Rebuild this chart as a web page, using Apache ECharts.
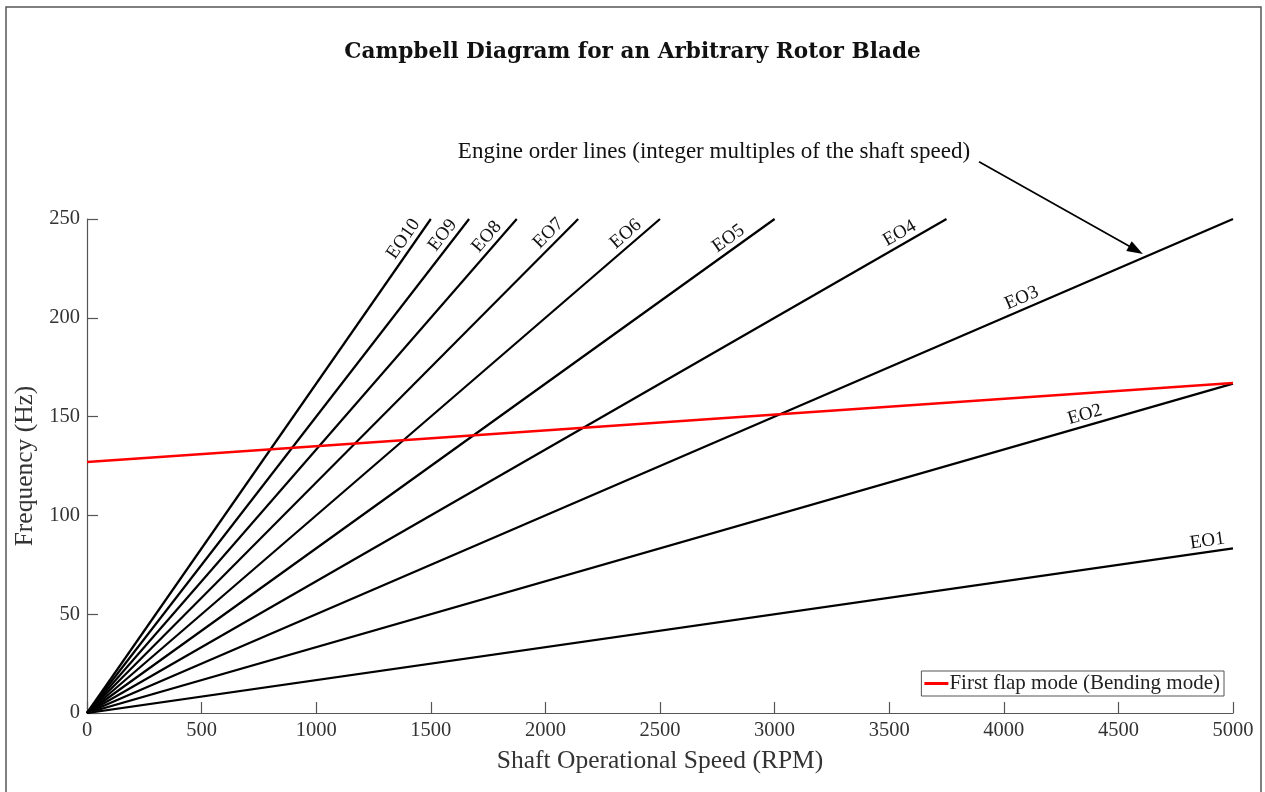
<!DOCTYPE html>
<html><head><meta charset="utf-8">
<script src="https://cdn.jsdelivr.net/npm/echarts@6/dist/echarts.min.js"></script>
<style>html,body{margin:0;padding:0;background:#fff}#c{width:1265px;height:792px}</style>
</head><body><div id="c"></div>
<script>
// ---- data ----
const eoLabels   = ['EO1','EO2','EO3','EO4','EO5','EO6','EO7','EO8','EO9','EO10'];
const eoEndRpm   = [5000, 5000, 5000, 3750, 3000, 2500, 2143, 1875, 1667, 1500];
const eoEndFreq  = [83.3, 166.7, 250, 250, 250, 250, 250, 250, 250, 250];
const eoLabelRpm = [4895, 4367, 4097, 3569, 2827, 2382, 2047, 1780, 1590, 1420];
const flapName = 'First flap mode (Bending mode)';
const flapRpm  = [0, 5000];
const flapFreq = [127, 167];
const titleText = 'Campbell Diagram for an Arbitrary Rotor Blade';
const xName = 'Shaft Operational Speed (RPM)';
const yName = 'Frequency (Hz)';
const annotationText = 'Engine order lines (integer multiples of the shaft speed)';
const annotationAt = [3853, 284];
const arrowFrom = [3892, 279];
const arrowTo   = [4607, 232.3];

const serif = "'Liberation Serif', 'DejaVu Serif', serif";
const axisColor = '#555';

const chart = echarts.init(document.getElementById('c'), null, {renderer: 'canvas'});

const series = eoLabels.map((name, i) => ({
  type: 'line', name: name, silent: true, symbol: 'none', animation: false,
  data: [[0, 0], [eoEndRpm[i], eoEndFreq[i]]],
  lineStyle: {color: '#000', width: 2.2}, itemStyle: {color: '#000'}, z: 2
}));
series.push({
  type: 'line', name: flapName, silent: true, symbol: 'none', animation: false,
  data: flapRpm.map((r, i) => [r, flapFreq[i]]),
  lineStyle: {color: '#ff0000', width: 2.6}, itemStyle: {color: '#ff0000'}, z: 3
});

chart.setOption({
  backgroundColor: '#fff',
  animation: false,
  title: {
    text: titleText, left: 'center', top: 36,
    textStyle: {fontFamily: "'DejaVu Serif', serif", fontWeight: 'bold', fontSize: 21.6, color: '#111'}
  },
  grid: {left: 87, right: 32, top: 219, bottom: 79, outerBoundsMode: 'none', containLabel: false},
  legend: {
    data: [flapName], right: 41, bottom: 96, selectedMode: false,
    icon: 'rect', itemWidth: 24, itemHeight: 3, itemGap: 4,
    padding: [2, 4, 2, 3],
    borderColor: axisColor, borderWidth: 1, backgroundColor: '#fff',
    textStyle: {fontFamily: serif, fontSize: 21, color: '#222', padding: [0, 0, 0, -4]}
  },
  xAxis: {
    type: 'value', min: 0, max: 5000, interval: 500,
    name: xName, nameLocation: 'middle', nameGap: 35,
    nameTextStyle: {fontFamily: serif, fontSize: 25.5, color: '#333'},
    axisLine: {show: true, lineStyle: {color: axisColor, width: 1.2}},
    axisTick: {show: true, inside: true, length: 11, lineStyle: {color: axisColor, width: 1.2}},
    axisLabel: {fontFamily: serif, fontSize: 20.5, color: '#333', margin: 7, formatter: (v) => String(v)},
    splitLine: {show: false}
  },
  yAxis: {
    type: 'value', min: 0, max: 250, interval: 50,
    name: yName, nameLocation: 'middle', nameGap: 44, nameRotate: 90,
    nameTextStyle: {fontFamily: serif, fontSize: 25.5, color: '#333'},
    axisLine: {show: true, onZero: false, lineStyle: {color: axisColor, width: 1.2}},
    axisTick: {show: true, inside: true, length: 11, lineStyle: {color: axisColor, width: 1.2}},
    axisLabel: {fontFamily: serif, fontSize: 20.5, color: '#333', margin: 7, formatter: (v) => String(v)},
    splitLine: {show: false}
  },
  series: series
});

// ---- overlays positioned through the chart's own scales ----
const px = (p) => chart.convertToPixel({gridIndex: 0}, p);
const graphics = [];
graphics.push({
  type: 'rect', silent: true, z: 100,
  shape: {x: 6, y: 7, width: 1255, height: 820},
  style: {fill: 'none', stroke: '#555', lineWidth: 1.5}
});
eoLabels.forEach((name, i) => {
  const p0 = px([0, 0]);
  const p1 = px([eoEndRpm[i], eoEndFreq[i]]);
  const ang = Math.atan2(-(p1[1] - p0[1]), p1[0] - p0[0]);
  const lf = eoLabelRpm[i] / eoEndRpm[i] * eoEndFreq[i];
  const pl = px([eoLabelRpm[i], lf]);
  graphics.push({
    type: 'text', silent: true, z: 50,
    x: pl[0], y: pl[1], rotation: ang,
    style: {text: name, x: 0, y: -11, align: 'center', verticalAlign: 'middle',
            font: "19px 'Liberation Serif', serif", fill: '#111'}
  });
});
const pa = px(annotationAt);
graphics.push({
  type: 'text', silent: true, z: 50, x: pa[0], y: pa[1],
  style: {text: annotationText, align: 'right', verticalAlign: 'middle',
          font: "23px 'Liberation Serif', serif", fill: '#111'}
});
const a0 = px(arrowFrom), a1 = px(arrowTo);
const dx = a1[0] - a0[0], dy = a1[1] - a0[1];
const len = Math.sqrt(dx * dx + dy * dy), ux = dx / len, uy = dy / len;
const hl = 16, hw = 5.5;
const base = [a1[0] - ux * hl, a1[1] - uy * hl];
graphics.push({
  type: 'line', silent: true, z: 50,
  shape: {x1: a0[0], y1: a0[1], x2: base[0] + ux * 2, y2: base[1] + uy * 2},
  style: {stroke: '#000', lineWidth: 1.7}
});
graphics.push({
  type: 'polygon', silent: true, z: 50,
  shape: {points: [a1, [base[0] - uy * hw, base[1] + ux * hw], [base[0] + uy * hw, base[1] - ux * hw]]},
  style: {fill: '#000'}
});
chart.setOption({graphic: graphics});
</script>
</body></html>
